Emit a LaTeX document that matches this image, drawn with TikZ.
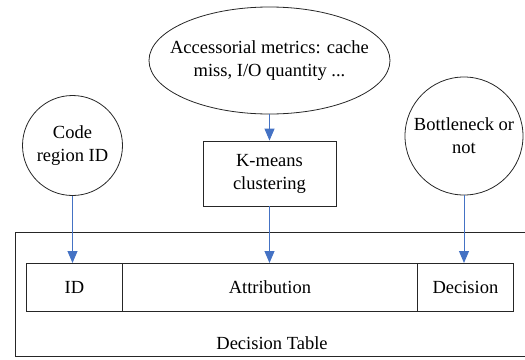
\documentclass[tikz,border=0pt]{standalone}
\usepackage{fontspec}
\setmainfont{Liberation Serif}
\usetikzlibrary{arrows.meta,shapes.geometric}
\tikzset{
  txt/.style={font=\fontsize{18.5}{23}\selectfont, align=center, inner sep=0pt},
  shapeline/.style={draw=black!85, line width=0.8pt},
  cell/.style={shapeline, rectangle, minimum height=48pt, inner sep=0pt, font=\fontsize{18.5}{23}\selectfont},
  flow/.style={draw={rgb,255:red,68;green,114;blue,196}, line width=1pt,
    -{Triangle[length=12pt,width=10pt,fill={rgb,255:red,68;green,114;blue,196}]}}
}
\begin{document}
\begin{tikzpicture}[x=1pt,y=1pt]
\useasboundingbox (0,0) rectangle (525,-359);
% outer frame of the decision table
\node[shapeline, rectangle, minimum width=515pt, minimum height=124pt, inner sep=0pt, anchor=north west] (frame) at (15,-232) {};
\node[txt] (caption) at (272,-343) {Decision Table};
% table row
\node[cell, minimum width=96pt, anchor=north west] (id) at (26,-263) {ID};
\node[cell, minimum width=295pt, anchor=north west] (attr) at (122,-263) {Attribution};
\node[cell, minimum width=96pt, anchor=north west] (dec) at (417,-263) {Decision};
% inputs
\node[shapeline, circle, minimum size=100pt, txt, inner sep=-10pt] (code) at (72.5,-145.5) {Code\\region ID};
\node[shapeline, circle, minimum size=118pt, txt, inner sep=-10pt] (bottle) at (464,-136) {Bottleneck or\\not};
\node[shapeline, ellipse, minimum width=241pt, minimum height=107pt, txt, inner xsep=-40pt, inner ysep=0pt] (metrics) at (269.5,-60.5) {Accessorial metrics: cache\\miss, I/O quantity ...};
\node[shapeline, rectangle, minimum width=133pt, minimum height=65pt, txt] (kmeans) at (269.5,-173.5) {K-means\\clustering};
% connectors
\draw[flow] (metrics.south) -- (kmeans.north);
\draw[flow] (kmeans.south) -- (attr.north -| kmeans.south);
\draw[flow] (code.south) -- (id.north -| code.south);
\draw[flow] (bottle.south) -- (dec.north -| bottle.south);
\end{tikzpicture}
\end{document}
